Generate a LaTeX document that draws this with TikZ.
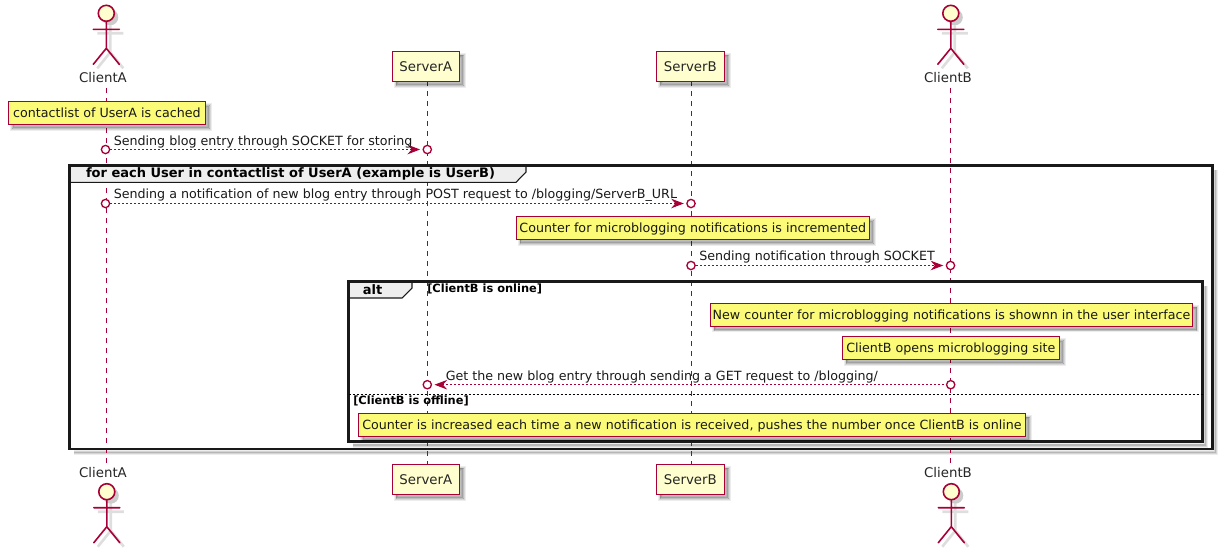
\documentclass[tikz,border=0pt]{standalone}
\usepackage{fontspec}
\setmainfont{DejaVu Sans}
\usetikzlibrary{arrows.meta,shadows,calc}
\definecolor{crim}{HTML}{A80036}
\definecolor{boxfill}{HTML}{FEFECE}
\definecolor{notefill}{HTML}{FBFB77}
\definecolor{headfill}{HTML}{EEEEEE}
\newcommand{\pxu}{0.75pt}
\tikzset{
  softshadow/.style={
    general shadow={fill=black,draw=black,opacity=.07,line width=3.5pt,shadow xshift=3pt,shadow yshift=-3pt},
    general shadow={fill=black,draw=black,opacity=.09,line width=2pt,shadow xshift=3pt,shadow yshift=-3pt},
    general shadow={fill=black,draw=black,opacity=.11,line width=0pt,shadow xshift=3pt,shadow yshift=-3pt}},
  participant/.style={draw=crim,fill=boxfill,line width=1.1pt,softshadow,font=\fontsize{10pt}{12pt}\selectfont,inner sep=0pt,anchor=center,text=black!85},
  notebox/.style={draw=crim,fill=notefill,line width=.75pt,softshadow,font=\fontsize{9.5pt}{12pt}\selectfont,inner sep=0pt,anchor=center,text=black!90,text depth=.5pt,text height=7pt},
  actorlabel/.style={font=\fontsize{10pt}{12pt}\selectfont,inner sep=0pt,text=black!85},
  msgtext/.style={font=\fontsize{9.5pt}{12pt}\selectfont,inner sep=0pt,anchor=west,text=black!90},
  lifeline/.style={draw=crim,line width=.75pt,dash pattern=on 3.75pt off 3.75pt},
  msg/.style={draw=crim,line width=.75pt,dash pattern=on 1.5pt off 1.5pt},
  endpoint/.style={circle,draw=crim,fill=white,line width=1pt,minimum size=6.2pt,inner sep=0pt},
  tipend/.style={-{Stealth[length=9.5pt,width=7.2pt,inset=3.2pt,fill=crim,color=crim,sep=0pt]},shorten >=1.8pt},
  tipstart/.style={{Stealth[length=9.5pt,width=7.2pt,inset=3.2pt,fill=crim,color=crim,sep=0pt]}-,shorten <=1.8pt},
  frameline/.style={draw=black!90,line width=1.6pt},
  framehead/.style={fill=headfill,draw=black!90,line width=.8pt},
  frametitle/.style={font=\bfseries\fontsize{9.75pt}{12pt}\selectfont,inner sep=0pt,text=black},
  guardtext/.style={font=\bfseries\fontsize{8.55pt}{10pt}\selectfont,inner sep=0pt,anchor=west,text=black},
  stick/.style={draw=crim,line width=1.2pt,line cap=round},
  stickshadow/.style={draw=black,line width=2pt,opacity=.13},
  headnode/.style={circle,draw=crim,fill=boxfill,line width=1.2pt,minimum size=12pt,inner sep=0pt,
    general shadow={fill=black,opacity=.2,shadow xshift=3pt,shadow yshift=-3pt}},
}
% #1 name, #2 x, #3 head-centre y (all in px)
\newcommand{\stickman}[3]{%
  \begin{scope}[shift={(#2,#3)}]
    \begin{scope}[shift={(4,4)}]
      \draw[stickshadow] (0,8) -- (0,35) (-13,16) -- (13,16) (-13,51) -- (0,35) -- (13,51);
    \end{scope}
    \node[headnode] (#1) at (0,0) {};
    \draw[stick] (#1.south) -- (0,35) (-13,16) -- (13,16) (-13,51) -- (0,35) -- (13,51);
  \end{scope}}
\begin{document}
\begin{tikzpicture}[x=\pxu,y=-\pxu]
\useasboundingbox (0,0) rectangle (1222,551);
\fill[white] (0,0) rectangle (1222,551);

% lifeline ends
\coordinate (caTop) at (106,88);   \coordinate (caBot) at (106,464);
\coordinate (saTop) at (427,81);   \coordinate (saBot) at (427,464);
\coordinate (sbTop) at (691,81);   \coordinate (sbBot) at (691,464);
\coordinate (cbTop) at (950.5,88); \coordinate (cbBot) at (950.5,464);

% frame shadows
\foreach \w/\o in {5/.07,3/.10,1.5/.14}{
  \draw[draw=black,line width=\w*0.75pt,opacity=\o] (1215.5,170) -- (1215.5,452.5) -- (74,452.5);
  \draw[draw=black,line width=\w*0.75pt,opacity=\o] (1205.5,286) -- (1205.5,445) -- (353,445);
}

% lifelines
\draw[lifeline] (caTop) -- (caBot);
\draw[lifeline] (saTop) -- (saBot);
\draw[lifeline] (sbTop) -- (sbBot);
\draw[lifeline] (cbTop) -- (cbBot);

% frames
\draw[framehead] (69.5,165.5) -- (526,165.5) -- (526,172) -- (516,182.3) -- (69.5,182.3) -- cycle;
\draw[framehead] (348.5,281.5) -- (412,281.5) -- (412,288) -- (402,298) -- (348.5,298) -- cycle;
\draw[frameline] (69.5,165.5) rectangle (1212.5,449);
\draw[frameline] (348.5,281.5) rectangle (1202.5,441.5);
\draw[draw=black,line width=.75pt,dash pattern=on 1.5pt off 1.5pt] (348.5,394) -- (1202.5,394);

% frame labels
\node[frametitle] (forT) at (290.5,174) {for each User in contactlist of UserA (example is UserB)};
\node[frametitle] (altT) at (372.5,290) {alt};
\node[guardtext] (gOn) at (427,289) {[ClientB is online]};
\node[guardtext] (gOff) at (353,400.5) {[ClientB is offline]};

% actors
\stickman{headA}{106.3}{13.3}
\stickman{headB}{950.8}{13.3}
\stickman{headAb}{106.8}{491.7}
\stickman{headBb}{951.3}{491.7}
\node[actorlabel] (labA) at (103,78) {ClientA};
\node[actorlabel] (labB) at (948,78) {ClientB};
\node[actorlabel] (labAb) at (103,473) {ClientA};
\node[actorlabel] (labBb) at (948,473) {ClientB};

% participants
\node[participant,minimum width=50.25pt,minimum height=22.5pt] (srvA) at (425.8,66.3) {ServerA};
\node[participant,minimum width=51pt,minimum height=22.5pt] (srvB) at (690.3,66.3) {ServerB};
\node[participant,minimum width=50.25pt,minimum height=22.5pt] (srvAb) at (425.8,479.3) {ServerA};
\node[participant,minimum width=51pt,minimum height=22.5pt] (srvBb) at (690.3,479.3) {ServerB};

% notes
\node[notebox,minimum width=147.5pt,minimum height=17pt] (n1) at (107,113) {contactlist of UserA is cached};
\node[notebox,minimum width=265pt,minimum height=17pt] (n2) at (692.8,228) {Counter for microblogging notifications is incremented};
\node[notebox,minimum width=362pt,minimum height=17pt] (n3) at (951.5,314.7) {New counter for microblogging notifications is shownn in the user interface};
\node[notebox,minimum width=162.7pt,minimum height=17pt] (n4) at (950.8,348) {ClientB opens microblogging site};
\node[notebox,minimum width=500pt,minimum height=17pt] (n5) at (692,424.8) {Counter is increased each time a new notification is received, pushes the number once ClientB is online};

% message endpoints
\node[endpoint] (m1a) at (105.5,149.5) {};
\node[endpoint] (m1b) at (427.3,149.5) {};
\node[endpoint] (m2a) at (105.5,203.5) {};
\node[endpoint] (m2b) at (691,203.5) {};
\node[endpoint] (m3a) at (691,265.5) {};
\node[endpoint] (m3b) at (950.5,265.5) {};
\node[endpoint] (m4a) at (427.3,384.7) {};
\node[endpoint] (m4b) at (950.7,384.7) {};

% messages
\draw[msg,tipend] (m1a) -- (m1b);
\draw[msg,tipend] (m2a) -- (m2b);
\draw[msg,tipend] (m3a) -- (m3b);
\draw[msg,tipstart] (m4a) -- (m4b);
\node[msgtext] (t1) at (113.5,141.5) {Sending blog entry through SOCKET for storing};
\node[msgtext] (t2) at (113.5,195) {Sending a notification of new blog entry through POST request to /blogging/ServerB\_URL};
\node[msgtext] (t3) at (699,257) {Sending notification through SOCKET};
\node[msgtext] (t4) at (445.5,376.5) {Get the new blog entry through sending a GET request to /blogging/};
\end{tikzpicture}
\end{document}
